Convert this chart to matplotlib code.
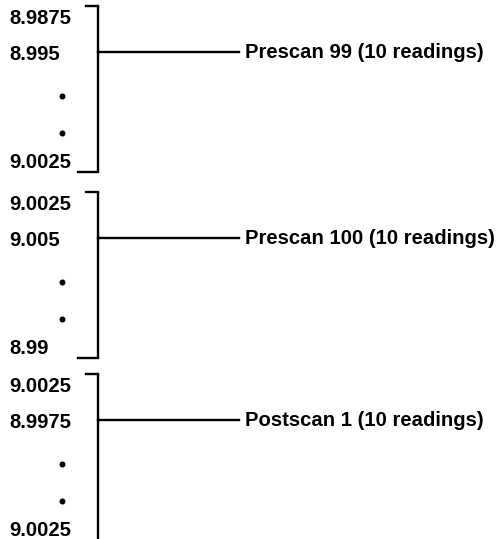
import matplotlib
matplotlib.use('Agg')
import matplotlib.pyplot as plt

# readings shown for each scan block
first_readings = ['8.9875', '9.0025', '9.0025']
second_readings = ['8.995', '9.005', '8.9975']
last_readings = ['9.0025', '8.99', '9.0025']
scan_names = ['Prescan 99 (10 readings)', 'Prescan 100 (10 readings)',
              'Postscan 1 (10 readings)']

W, H = 502, 539
fig = plt.figure(figsize=(W / 100, H / 100), dpi=100)
ax = fig.add_axes([0, 0, 1, 1])
ax.set_xlim(0, W)
ax.set_ylim(H, 0)
ax.axis('off')

font = dict(family='Liberation Sans', weight='bold', fontsize=14.6)
lw = 1.7
block_top = [6, 192, 374]
bx = 98  # x of bracket spine
text_x = 9

for i, top in enumerate(block_top):
    last = i == len(block_top) - 1
    bottom = H + 2 if last else top + 166
    ax.plot([bx, bx], [top, bottom], color='black', lw=lw, solid_capstyle='butt')
    ax.plot([bx - 12, bx], [top, top], color='black', lw=lw)
    if not last:
        ax.plot([bx - 20, bx], [bottom, bottom], color='black', lw=lw)
    ax.text(text_x, top + 12, first_readings[i], va='center', ha='left', **font)
    ax.text(text_x, top + 49, second_readings[i], va='center', ha='left', **font)
    ax.text(text_x, top + 156, last_readings[i], va='center', ha='left', **font)
    ax.plot([62, 62], [top + 90, top + 127], 'o', color='black', ms=3.3)
    ax.plot([bx, 239], [top + 46, top + 46], color='black', lw=lw)
    ax.text(245, top + 46, scan_names[i], va='center', ha='left', **font)

fig.savefig('out.png', dpi=100)
